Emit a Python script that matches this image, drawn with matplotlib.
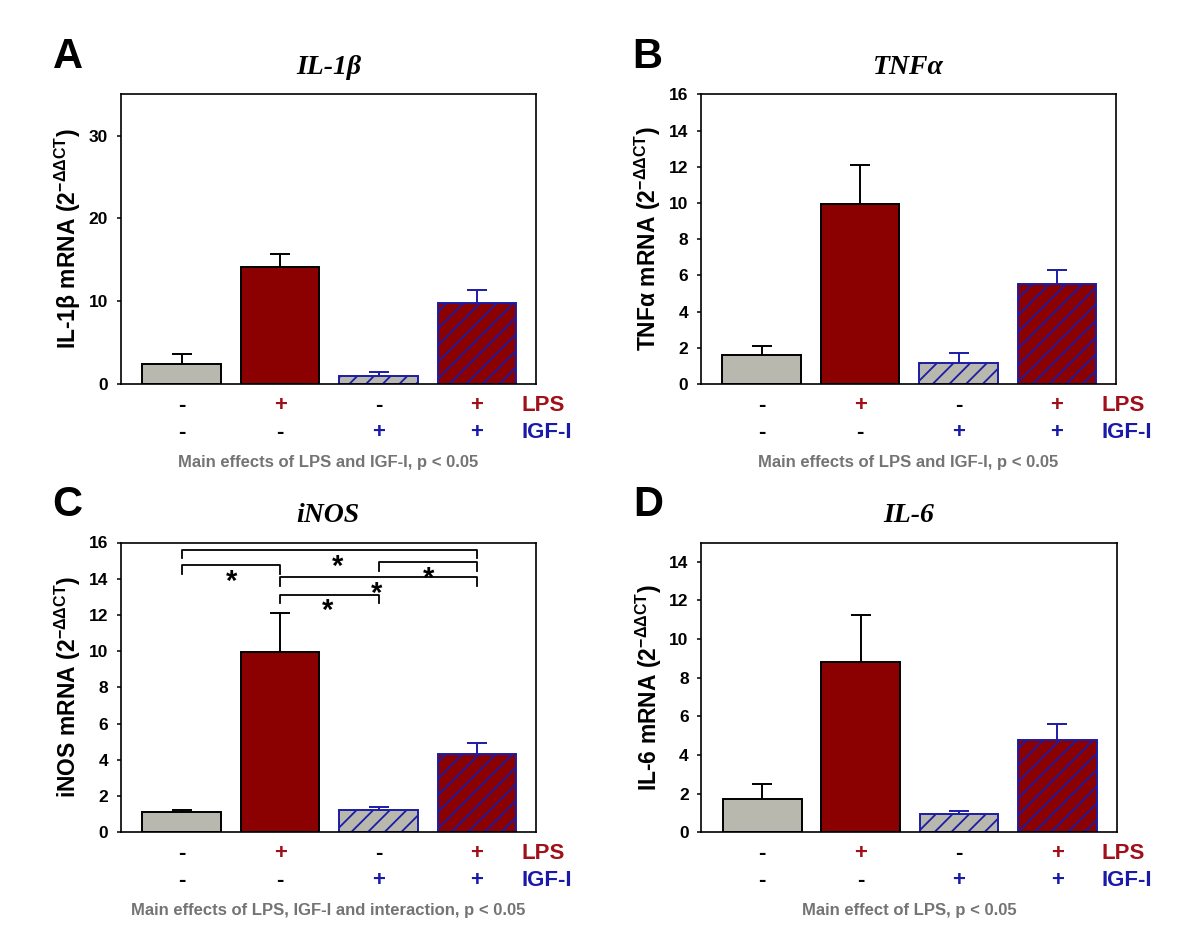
import matplotlib.pyplot as plt
import matplotlib.transforms as mtransforms
import numpy as np

plt.rcParams['font.family'] = ['Liberation Sans', 'DejaVu Sans']
plt.rcParams['font.weight'] = 'bold'
plt.rcParams['mathtext.fontset'] = 'custom'
plt.rcParams['mathtext.rm'] = 'Liberation Sans'
plt.rcParams['mathtext.it'] = 'Liberation Sans:italic'
plt.rcParams['mathtext.bf'] = 'Liberation Sans:bold'
plt.rcParams['hatch.linewidth'] = 1.3

# data
groups = [0, 1, 2, 3]
lps_signs = ['-', '+', '-', '+']
igf_signs = ['-', '-', '+', '+']

il1b_mean = [2.4, 14.1, 1.0, 9.8]
il1b_err = [1.2, 1.65, 0.4, 1.6]
tnfa_mean = [1.6, 9.95, 1.15, 5.55]
tnfa_err = [0.5, 2.15, 0.55, 0.75]
inos_mean = [1.1, 9.95, 1.2, 4.3]
inos_err = [0.15, 2.15, 0.2, 0.6]
il6_mean = [1.7, 8.8, 0.93, 4.75]
il6_err = [0.78, 2.45, 0.16, 0.83]

# significance brackets for iNOS: (left group, right group, height)
inos_brackets = [(0, 3, 15.6), (0, 1, 14.73), (2, 3, 14.9), (1, 3, 14.08), (1, 2, 13.12)]
inos_stars = [(1.58, 15.06), (0.51, 14.2), (2.51, 14.4), (1.98, 13.57), (1.48, 12.6)]

gray_fill = '#b8b8ae'
red_fill = '#8b0000'
blue = '#1c1ca6'
lps_red = '#a0101a'
igf_blue = '#1a1aa8'
note_gray = '#747474'

W, H = 1200, 943
fig = plt.figure(figsize=(12, 9.43), dpi=100)

panels = [
    ('A', 'IL-1β', 'IL-1β', il1b_mean, il1b_err, (0, 35), [0, 10, 20, 30],
     'Main effects of LPS and IGF-I, p < 0.05', (120.7, 94.3)),
    ('B', 'TNFα', 'TNFα', tnfa_mean, tnfa_err, (0, 16), list(range(0, 17, 2)),
     'Main effects of LPS and IGF-I, p < 0.05', (700.7, 94.3)),
    ('C', 'iNOS', 'iNOS', inos_mean, inos_err, (0, 16), list(range(0, 17, 2)),
     'Main effects of LPS, IGF-I and interaction, p < 0.05', (120.7, 542.5)),
    ('D', 'IL-6', 'IL-6', il6_mean, il6_err, (0, 15), list(range(0, 15, 2)),
     'Main effect of LPS, p < 0.05', (701.2, 542.5)),
]

ax_w, ax_h = 415.3, 289.7
fills = [gray_fill, red_fill, gray_fill, red_fill]
edges = ['black', 'black', blue, blue]
hatches = ['', '', '//', '//']

for letter, title, gene, means, errs, ylim, yticks, note, (px, py) in panels:
    ax = fig.add_axes([px / W, 1 - (py + ax_h) / H, ax_w / W, ax_h / H])
    bars = ax.bar(groups, means, width=0.8, color=fills, edgecolor=edges,
                  linewidth=1.4, zorder=2)
    for b, h in zip(bars, hatches):
        b.set_hatch(h)
    for i in groups:
        _, caps, _ = ax.errorbar(groups[i], means[i], yerr=[[0], [errs[i]]], fmt='none',
                                 ecolor=edges[i], elinewidth=1.4, capsize=7,
                                 capthick=1.4, zorder=3)
        caps[0].set_visible(False)

    ax.set_xlim(-0.62, 3.6)
    ax.set_ylim(*ylim)
    ax.set_yticks(yticks)
    ax.set_xticks([])
    ax.tick_params(axis='y', direction='out', length=3, width=1.1, pad=6, labelsize=12.5)
    for lab in ax.get_yticklabels():
        lab.set_fontweight('bold')
    for s in ax.spines.values():
        s.set_linewidth(1.2)

    ax.set_ylabel(gene + ' mRNA (2' + r'$^{\mathrm{-\Delta\Delta CT}}$' + ')',
                  fontsize=16.5, fontweight='bold', labelpad=4)

    tr = ax.get_xaxis_transform()
    for i in groups:
        ax.text(groups[i], -0.075, lps_signs[i], transform=tr, ha='center', va='center',
                fontsize=16, fontweight='bold',
                color=lps_red if lps_signs[i] == '+' else 'black')
        ax.text(groups[i], -0.168, igf_signs[i], transform=tr, ha='center', va='center',
                fontsize=16, fontweight='bold',
                color=igf_blue if igf_signs[i] == '+' else 'black')
    ax.text(3.45, -0.075, 'LPS', transform=tr, ha='left', va='center',
            fontsize=16, fontweight='bold', color=lps_red)
    ax.text(3.45, -0.168, 'IGF-I', transform=tr, ha='left', va='center',
            fontsize=16, fontweight='bold', color=igf_blue)
    ax.text(0.5, -0.27, note, transform=ax.transAxes, ha='center', va='center',
            fontsize=12, fontweight='bold', color=note_gray)

    ax.text(0.5, 1 + 27 / ax_h, title, transform=ax.transAxes, ha='center', va='center',
            fontsize=20, fontweight='bold', style='italic', family='Liberation Serif')
    fig.text((px - 53) / W, 1 - (py - 37) / H, letter, ha='center', va='center',
             fontsize=30, fontweight='bold')

    if letter == 'C':
        for x1, x2, yb in inos_brackets:
            ax.plot([x1, x1, x2, x2], [yb - 0.48, yb, yb, yb - 0.48], color='black',
                    linewidth=1.3, zorder=4)
        # asterisk glyph sits high in its text box, shift it down to its visual centre
        star_tr = mtransforms.offset_copy(ax.transData, fig=fig, y=-7, units='dots')
        for xs, ys in inos_stars:
            ax.text(xs, ys, '*', transform=star_tr, ha='center', va='center',
                    fontsize=21, fontweight='bold', zorder=5)

fig.savefig('out.png', dpi=100)
